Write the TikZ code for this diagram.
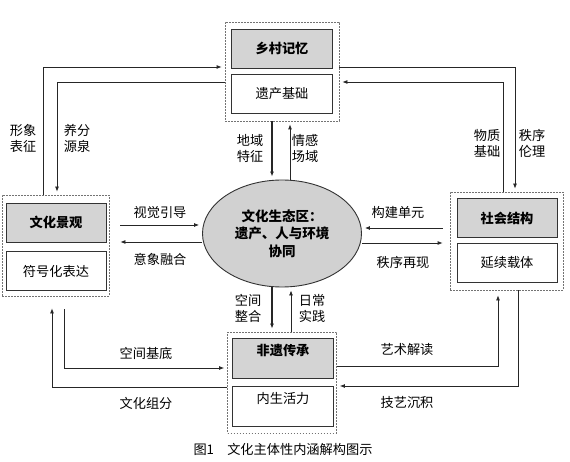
\documentclass[tikz,border=0pt]{standalone}
\usepackage{fontspec}
\setmainfont{Noto Sans CJK SC}
\usetikzlibrary{arrows.meta,shapes.geometric}

\begin{document}
\begin{tikzpicture}[x=1pt,y=-1pt,
  font=\fontsize{13.2}{16}\selectfont,
  grp/.style={draw=black!55, dash pattern=on 1.6pt off 1.4pt, line width=0.8pt, inner sep=0pt},
  hd/.style={draw=black!80, fill=black!17, line width=0.9pt, minimum height=39pt, inner sep=0pt, font=\fontsize{13.2}{16}\selectfont\bfseries},
  bd/.style={draw=black!80, fill=white, line width=0.9pt, minimum height=39pt, inner sep=0pt},
  arr/.style={-{Latex[length=5pt,width=4pt]}, line width=0.8pt, draw=black!85, shorten >=3pt},
  thk/.style={arr, line width=1.4pt},
  lbl/.style={align=center}]
\useasboundingbox (0,0) rectangle (570,462);
% groups
\node[grp, minimum width=114pt, minimum height=99pt] (topg) at (282,71.5) {};
\node[hd, minimum width=101pt] (top1) at (282,48.5) {乡村记忆};
\node[bd, minimum width=101pt] (top2) at (282,93.5) {遗产基础};
\node[grp, minimum width=107pt, minimum height=101pt] (leftg) at (55.5,245.5) {};
\node[hd, minimum width=100pt] (left1) at (56,222.5) {文化景观};
\node[bd, minimum width=100pt] (left2) at (56,271) {符号化表达};
\node[grp, minimum width=113pt, minimum height=98pt] (rightg) at (506.5,241) {};
\node[hd, minimum width=100pt] (right1) at (507,218) {社会结构};
\node[bd, minimum width=100pt] (right2) at (507,263) {延续载体};
\node[grp, minimum width=109pt, minimum height=101pt] (botg) at (282,382.5) {};
\node[hd, minimum width=101pt, minimum height=40pt, text depth=16pt] (bot1) at (283,358) {非遗传承};
\node[bd, minimum width=101pt, minimum height=40pt, text depth=16pt] (bot2) at (283,406) {内生活力};
% centre
\node[ellipse, draw=black!80, fill=black!18, line width=0.9pt, minimum width=159pt, minimum height=107pt,
  inner sep=0pt, align=center, font=\fontsize{13.5}{17.5}\selectfont\bfseries] (eco) at (282,233.5)
  {文化生态区：\\遗产、人与环境\\协同};
% connectors
\draw[arr] ([xshift=-12.5pt]leftg.north) |- ([yshift=4.5pt]topg.west);
\draw[arr] ([yshift=-10.5pt]topg.west) -| ([xshift=1.5pt]leftg.north);
\draw[arr] ([yshift=4.5pt]topg.east) -| ([xshift=8.5pt]rightg.north);
\draw[arr] ([xshift=-3.5pt]rightg.north) |- ([yshift=-10.5pt]topg.east);
\draw[thk] ([xshift=-10pt]topg.south) -- ([xshift=-10pt]eco.north);
\draw[arr] ([xshift=8pt]eco.north) -- ([xshift=8pt]topg.south);
\draw[arr, shorten <=11pt] ([yshift=20.5pt]leftg.east) -- ([yshift=8.5pt]eco.west);
\draw[arr, shorten >=11pt] ([yshift=-8.5pt]eco.west) -- ([yshift=3.5pt]leftg.east);
\draw[arr, shorten <=7pt] ([yshift=13pt]rightg.west) -- ([yshift=5.5pt]eco.east);
\draw[arr, shorten >=7pt] ([yshift=-9.5pt]eco.east) -- ([yshift=-2pt]rightg.west);
\draw[thk] ([xshift=-10pt]eco.south) -- ([xshift=-10pt]botg.north);
\draw[arr] ([xshift=9pt]botg.north) -- ([xshift=9pt]eco.south);
\draw[arr, shorten <=13pt] ([xshift=8.5pt]leftg.south) |- ([yshift=14.5pt]botg.west);
\draw[arr, shorten >=12pt] ([yshift=-4.5pt]botg.west) -| ([xshift=-3.5pt]leftg.south);
\draw[arr, shorten >=5pt] ([yshift=16.5pt]botg.east) -| ([xshift=-8.5pt]rightg.south);
\draw[arr] ([xshift=11.5pt]rightg.south) |- ([yshift=-3.5pt]botg.east);
% labels
\node[lbl] (lxx) at (23,138) {形象\\表征};
\node[lbl] (lyf) at (77,138) {养分\\源泉};
\node[lbl] (ldy) at (250,148) {地域\\特征};
\node[lbl] (lqg) at (305,148) {情感\\场域};
\node[lbl] (lwz) at (487,143) {物质\\基础};
\node[lbl] (lzx) at (532,143) {秩序\\伦理};
\node[lbl] (lsj) at (160,213) {视觉引导};
\node[lbl] (lyx) at (160,259) {意象融合};
\node[lbl] (lgj) at (398,212) {构建单元};
\node[lbl] (lzz) at (403,262) {秩序再现};
\node[lbl] (lkz) at (248,308) {空间\\整合};
\node[lbl] (lrc) at (312,308) {日常\\实践};
\node[lbl] (lkj) at (146,353) {空间基底};
\node[lbl] (lwh) at (146,403) {文化组分};
\node[lbl] (lys) at (407,350) {艺术解读};
\node[lbl] (ljy) at (407,402) {技艺沉积};
\node (cap) at (283,449) {图1\quad 文化主体性内涵解构图示};
\end{tikzpicture}
\end{document}
